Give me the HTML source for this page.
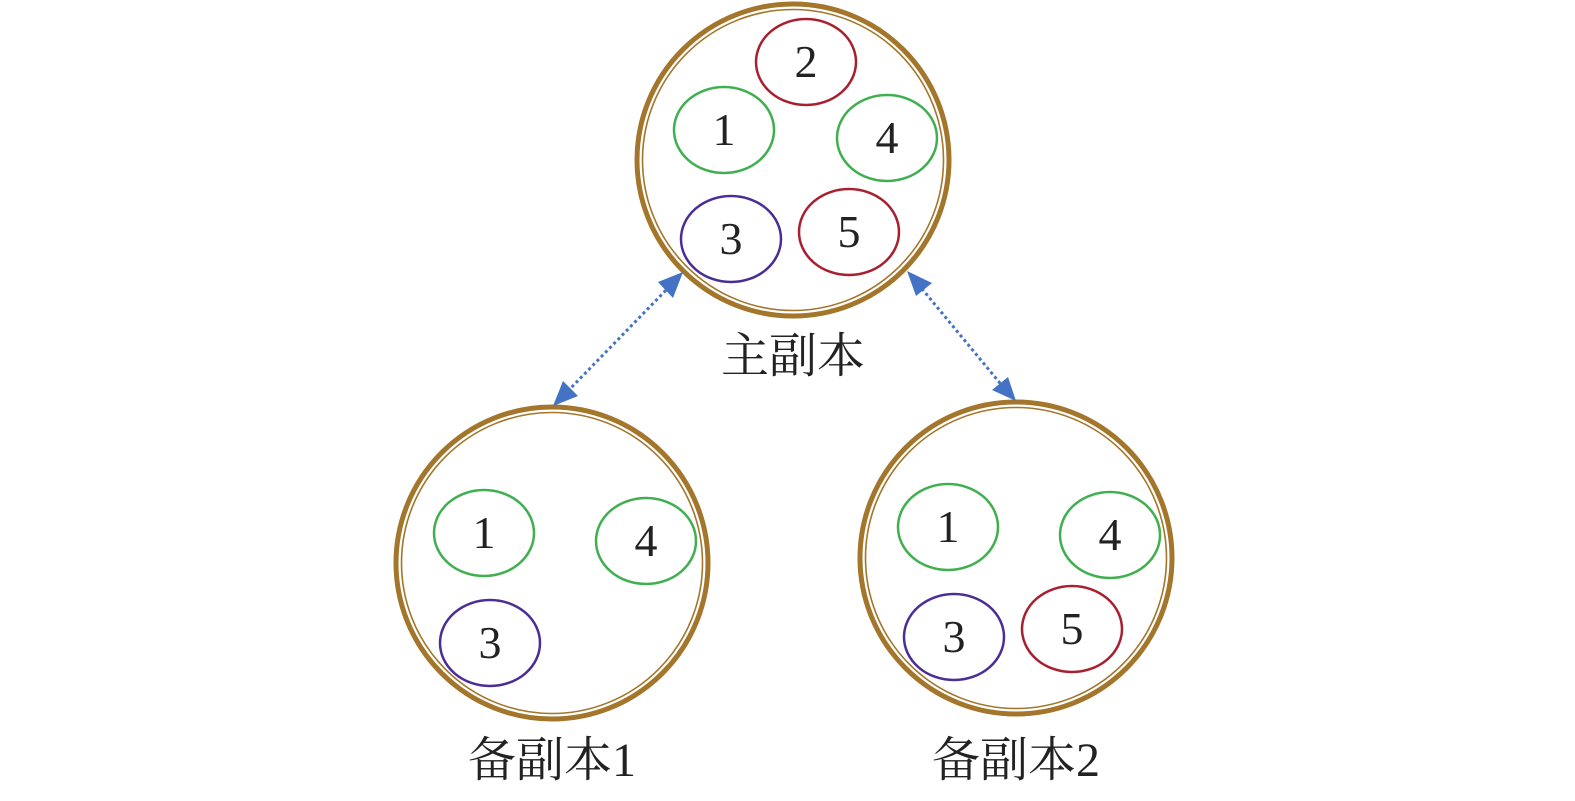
<!DOCTYPE html>
<html><head><meta charset="utf-8"><style>html,body{margin:0;padding:0;background:#fff}</style></head><body>
<svg width="1575" height="796" viewBox="0 0 1575 796" xmlns="http://www.w3.org/2000/svg">
<g fill="none" stroke="#A3762B">
<circle cx="793" cy="160" r="156" stroke-width="5"/><circle cx="793" cy="160" r="150.5" stroke-width="1.6"/>
<circle cx="552" cy="563" r="156" stroke-width="5"/><circle cx="552" cy="563" r="150.5" stroke-width="1.6"/>
<circle cx="1016" cy="558" r="156" stroke-width="5"/><circle cx="1016" cy="558" r="150.5" stroke-width="1.6"/>
</g>
<g fill="none" stroke-width="2.5">
<ellipse cx="806" cy="62" rx="50" ry="43" stroke="#A8202F"/>
<ellipse cx="724" cy="130" rx="50" ry="43" stroke="#3FAF4F"/>
<ellipse cx="887" cy="138" rx="50" ry="43" stroke="#3FAF4F"/>
<ellipse cx="731" cy="239" rx="50" ry="43" stroke="#4A2E96"/>
<ellipse cx="849" cy="232" rx="50" ry="43" stroke="#A8202F"/>
<ellipse cx="484" cy="533" rx="50" ry="43" stroke="#3FAF4F"/>
<ellipse cx="646" cy="541" rx="50" ry="43" stroke="#3FAF4F"/>
<ellipse cx="490" cy="643" rx="50" ry="43" stroke="#4A2E96"/>
<ellipse cx="948" cy="527" rx="50" ry="43" stroke="#3FAF4F"/>
<ellipse cx="1110" cy="535" rx="50" ry="43" stroke="#3FAF4F"/>
<ellipse cx="954" cy="637" rx="50" ry="43" stroke="#4A2E96"/>
<ellipse cx="1072" cy="629" rx="50" ry="43" stroke="#A8202F"/>
</g>
<g font-family="Liberation Serif, serif" font-size="46" fill="#222" text-anchor="middle">
<text x="806" y="77">2</text><text x="724" y="145">1</text><text x="887" y="153">4</text><text x="731" y="254">3</text><text x="849" y="247">5</text>
<text x="484" y="548">1</text><text x="646" y="556">4</text><text x="490" y="658">3</text>
<text x="948" y="542">1</text><text x="1110" y="550">4</text><text x="954" y="652">3</text><text x="1072" y="644">5</text>
</g>
<g stroke="#4472C4" stroke-width="3" stroke-dasharray="3,3">
<line x1="670" y1="286" x2="566" y2="393"/>
<line x1="918" y1="284" x2="1004" y2="388"/>
</g>
<g fill="#4472C4">
<polygon points="683,272 658,282 673,298"/>
<polygon points="553,406 563,381 578,396"/>
<polygon points="907,271 916,296 932,283"/>
<polygon points="1016,401 992,390 1008,377"/>
</g>
<g font-family="Liberation Serif, 'Noto Serif CJK SC', serif" font-size="48" fill="#222" text-anchor="middle">
<text x="793" y="372">主副本</text>
<text x="552" y="776">备副本1</text>
<text x="1016" y="776">备副本2</text>
</g>
</svg>
</body></html>
